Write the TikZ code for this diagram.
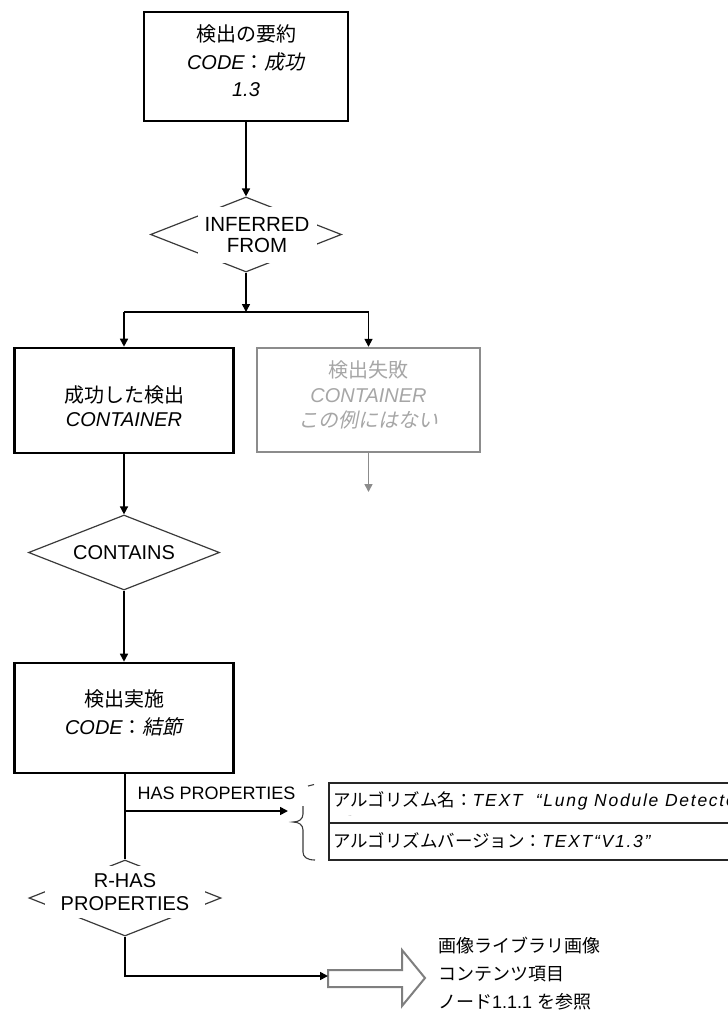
\documentclass[tikz,border=0pt]{standalone}
\usepackage{fontspec}
\setmainfont{Liberation Sans}
\newfontfamily\tblfont[LetterSpace=10]{Liberation Sans}
\newfontfamily\jp{Noto Sans CJK JP}
\newfontfamily\jpit[FakeSlant=0.2]{Noto Sans CJK JP}
\usetikzlibrary{shapes.geometric,arrows.meta}
\definecolor{failgray}{HTML}{8C8C8C}
\definecolor{failtext}{HTML}{A6A6A6}
\definecolor{edgegray}{HTML}{3A3A3A}
\definecolor{blockgray}{HTML}{7F7F7F}
\begin{document}
\begin{tikzpicture}[x=1pt,y=-1pt,
  boxd/.style={draw=black,line width=2.6pt,inner sep=0pt},
  failbox/.style={draw=failgray,line width=2.4pt,inner sep=0pt},
  dia/.style={diamond,draw=edgegray,line width=1.2pt,inner sep=0pt,minimum width=191pt,minimum height=75pt},
  conn/.style={line width=1.6pt,-{Triangle[length=8pt,width=8pt]}},
  plain/.style={line width=1.6pt},
  bracep/.style={draw=edgegray,line width=1.1pt},
  tbl/.style={draw=black!85,line width=1.5pt},
]
\useasboundingbox (0,0) rectangle (728,1012);

% top box
\node[boxd,minimum width=204pt,minimum height=109pt] (top) at (246,66.5) {};
\node[font=\fontsize{20}{27.5}\selectfont,align=center,inner sep=0pt] (toptxt) at (246,61)
  {{\jp 検出の要約}\\\textit{CODE}{\jp ：}{\jpit 成功}\\\textit{1.3}};

% inferred from diamond
\node[dia] (inf) at (246,234.5) {};
\node[fill=white,inner sep=0pt,minimum width=119pt,minimum height=56pt,
  font=\fontsize{20.5}{21}\selectfont,align=center] (inftxt) at (257,235) {INFERRED\\FROM};

\draw[conn] (top.south) -- (inf.north);
\coordinate (junc) at (246,312);
\draw[conn] (inf.south) -- (junc);

% success and fail boxes
\node[boxd,minimum width=219pt,minimum height=105pt] (succ) at (124,400.5) {};
\node[font=\fontsize{20}{24}\selectfont,align=center,inner sep=0pt] (succtxt) at (124,406.5)
  {{\jp 成功した検出}\\\textit{CONTAINER}};
\node[failbox,minimum width=223pt,minimum height=104pt] (fail) at (368.5,400) {};
\node[font=\fontsize{20}{25}\selectfont,align=center,inner sep=0pt,text=failtext] (failtxt) at (368.5,394.5)
  {{\jp 検出失敗}\\\textit{CONTAINER}\\{\jpit この例にはない}};

\coordinate (barL) at (124,312);
\coordinate (barR) at (368.5,312);
\draw[plain] (barL) -- (barR);
\draw[conn] (barL) -- (succ.north);
\draw[conn] (barR) -- (fail.north);

\coordinate (failend) at (368.5,492);
\draw[conn,draw=failgray] (fail.south) -- (failend);

% contains diamond
\node[dia] (cont) at (124,552.5) {};
\node[font=\fontsize{20}{24}\selectfont,inner sep=0pt] (conttxt) at (124,553) {CONTAINS};
\draw[conn] (succ.south) -- (cont.north);

% detection performed box
\node[boxd,minimum width=219pt,minimum height=110pt] (perf) at (124,718) {};
\node[font=\fontsize{20}{28}\selectfont,align=center,inner sep=0pt] (perftxt) at (124,712.5)
  {{\jp 検出実施}\\\textit{CODE}{\jp ：}{\jpit 結節}};
\draw[conn] (cont.south) -- (perf.north);

% r-has properties diamond
\node[dia,minimum width=192pt,minimum height=76pt] (rhas) at (125,898) {};
\node[fill=white,inner sep=0pt,minimum width=160pt,minimum height=52pt,
  font=\fontsize{20}{23}\selectfont,align=center] (rhastxt) at (125,892) {R-HAS\\PROPERTIES};
\draw[plain] (perf.south -| rhas.north) -- (rhas.north);

% has properties branch
\coordinate (hasj) at (125,811);
\coordinate (hasend) at (288,811);
\draw[conn] (hasj) -- (hasend);
\node[font=\fontsize{18}{20}\selectfont,inner sep=0pt] (haslbl) at (216.5,793) {HAS PROPERTIES};

% brace
\draw[bracep] (308,786) -- (314,784.5);
\draw[bracep] (303,806) -- (303,814) .. controls (303,819) and (299,822) .. (293,822)
  .. controls (299,822) and (303,825) .. (303,830) -- (303,852)
  .. controls (303,857) and (307,860) .. (315,860);

% property table (clipped at the right edge)
\begin{scope}
\clip (0,0) rectangle (728,1012);
\draw[tbl] (329,783) rectangle (745,860);
\draw[tbl] (329,823) -- (745,823);
\node[anchor=west,inner sep=0pt,font=\fontsize{17.5}{18}\selectfont] (row1) at (333,801)
  {{\jp アルゴリズム名：}{\tblfont\itshape TEXT\ \ “Lung\ Nodule\ Detector”}};
\node[anchor=west,inner sep=0pt,font=\fontsize{17.5}{18}\selectfont] (row2) at (333,841)
  {{\jp アルゴリズムバージョン：}{\tblfont\itshape TEXT“V1.3”}};
\end{scope}
\node[inner sep=0pt,font=\fontsize{6}{6}\selectfont,text=gray] (dots) at (350,816) {..};

% bottom reference arrow
\coordinate (blk) at (328,976);
\draw[draw=blockgray,line width=2pt,fill=white,line join=miter]
  (328,970) -- (402,970) -- (402,950) -- (425,978) -- (402,1006) -- (402,987) -- (328,987) -- cycle;
\draw[conn] (rhas.south) |- (blk);
\node[anchor=west,align=left,inner sep=0pt,font=\fontsize{18}{28}\selectfont] (reftxt) at (438,973.5)
  {{\jp 画像ライブラリ画像}\\{\jp コンテンツ項目}\\{\jp ノード}1.1.1 {\jp を参照}};
\end{tikzpicture}
\end{document}
